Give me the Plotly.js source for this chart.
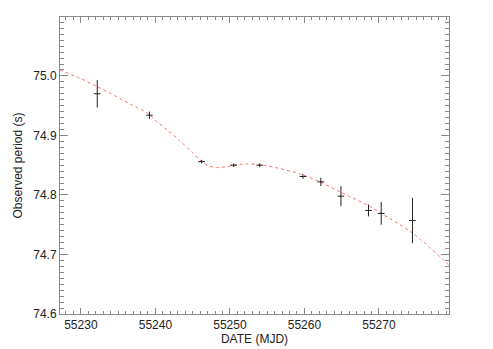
<!DOCTYPE html>
<html>
<head>
<meta charset="utf-8">
<script src="https://cdn.plot.ly/plotly-3.0.1.min.js"></script>
<style>
  html, body { margin: 0; padding: 0; background: #fff; }
  #plot { width: 493px; height: 349px; }
</style>
</head>
<body>
<div id="plot"></div>
<script>
// observed periods (MJD, seconds, 1-sigma)
let obsDate = [55232.2, 55239.2, 55246.2, 55250.5, 55254.0, 55259.8, 55262.2, 55264.9, 55268.6, 55270.3, 55274.5];
let obsPeriod = [74.970, 74.934, 74.856, 74.850, 74.850, 74.831, 74.822, 74.798, 74.774, 74.769, 74.757];
let periodErr = [0.023, 0.006, 0.003, 0.003, 0.003, 0.004, 0.007, 0.017, 0.010, 0.019, 0.038];
let dateErr = [0.45, 0.45, 0.45, 0.45, 0.45, 0.45, 0.45, 0.45, 0.45, 0.45, 0.45];

// model curve
let modelDate = [55227.2, 55229.9, 55232.2, 55233.9, 55236.6, 55239.1, 55240.2, 55241.7, 55243.3, 55244.9, 55246.2, 55247.1, 55248.2, 55249.8, 55251.0, 55252.3, 55253.9, 55256.5, 55259.7, 55262.1, 55264.8, 55268.6, 55270.2, 55274.5, 55279.5];
let modelPeriod = [75.010, 74.996, 74.982, 74.971, 74.953, 74.936, 74.923, 74.908, 74.891, 74.872, 74.856, 74.849, 74.846, 74.848, 74.851, 74.852, 74.851, 74.845, 74.834, 74.822, 74.805, 74.782, 74.770, 74.736, 74.681];

let model = {
  x: modelDate,
  y: modelPeriod,
  mode: "lines",
  line: { color: "rgb(255,110,110)", width: 1, dash: "3px,3px", shape: "spline", smoothing: 0.8 },
  hoverinfo: "skip"
};

let obs = {
  x: obsDate,
  y: obsPeriod,
  mode: "markers",
  marker: { size: 1, color: "#222" },
  error_y: { type: "data", array: periodErr, color: "#222", thickness: 1, width: 0 },
  error_x: { type: "data", array: dateErr, color: "#222", thickness: 1, width: 0 }
};

let axisStyle = {
  showgrid: false,
  zeroline: false,
  showline: true,
  linecolor: "#888",
  linewidth: 1,
  mirror: "ticks",
  ticks: "inside",
  tickcolor: "#888",
  tickfont: { family: "Liberation Sans, Arial, sans-serif", size: 12, color: "#222" }
};

let layout = {
  width: 493,
  height: 349,
  margin: { l: 60, r: 44, t: 17, b: 35 },
  showlegend: false,
  paper_bgcolor: "#fff",
  plot_bgcolor: "#fff",
  font: { family: "Liberation Sans, Arial, sans-serif", size: 12, color: "#222" },
  xaxis: Object.assign({}, axisStyle, {
    range: [55227.2, 55279.4],
    dtick: 10,
    tick0: 55230,
    ticklen: 6,
    minor: { ticks: "inside", dtick: 1, ticklen: 3, tickcolor: "#888" },
    tickformat: "d",
    title: { text: "DATE (MJD)", standoff: 2, font: { size: 12 } }
  }),
  yaxis: Object.assign({}, axisStyle, {
    range: [74.6, 75.099],
    dtick: 0.1,
    tick0: 74.6,
    ticklen: 8,
    minor: { ticks: "inside", dtick: 0.01, ticklen: 4, tickcolor: "#888" },
    tickformat: ".1f",
    title: { text: "Observed period (s)", standoff: 8, font: { size: 12 } }
  })
};

Plotly.newPlot("plot", [model, obs], layout, { staticPlot: true });
</script>
</body>
</html>
